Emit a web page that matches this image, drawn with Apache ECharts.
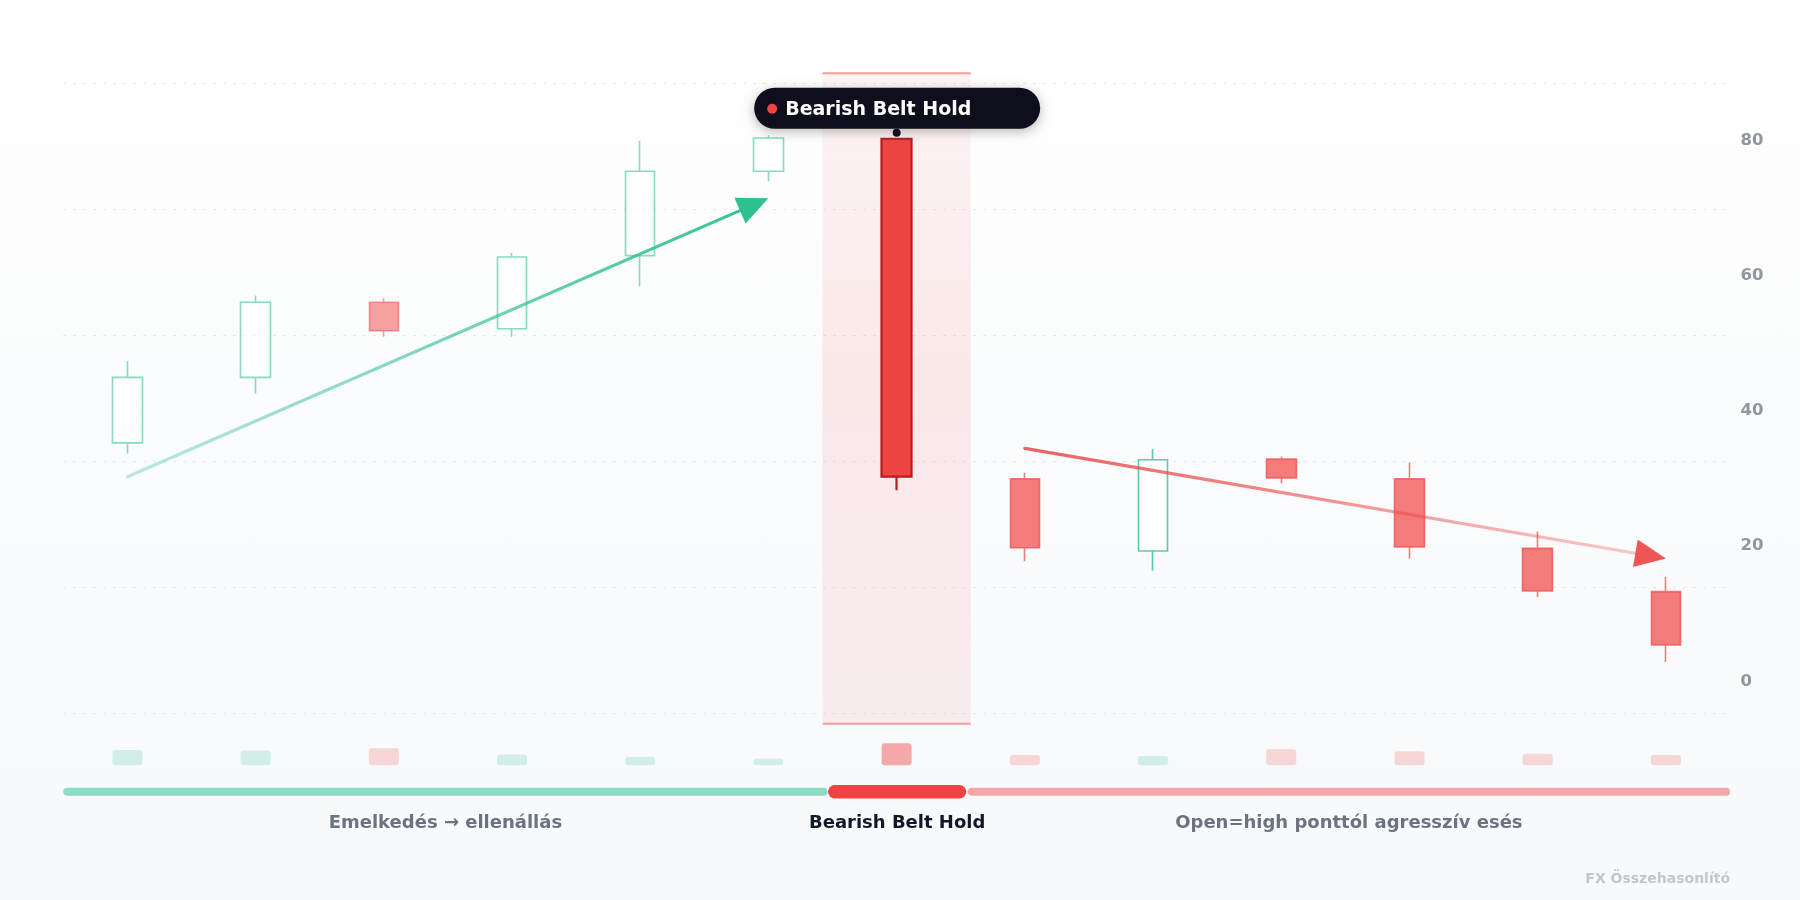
<!DOCTYPE html>
<html>
<head>
<meta charset="utf-8">
<script src="https://cdn.jsdelivr.net/npm/echarts@6/dist/echarts.min.js"></script>
<style>
    html,body{margin:0;padding:0;}
    body{background:linear-gradient(180deg,#ffffff 0%,#fbfcfd 45%,#f7f9fa 100%);}
    #chart{width:1800px;height:900px;}
</style>
</head>
<body>
<div id="chart"></div>
<script>
// candles: [open, close, low, high]
const days = ['1','2','3','4','5','6','7','8','9','10','11','12','13'];
const opens  = [35.0, 44.7, 55.8, 51.9, 62.7, 75.2, 80.0, 29.7, 19.0, 32.6, 29.7, 19.4, 13.0];
const closes = [44.7, 55.8, 51.6, 62.5, 75.2, 80.1, 30.0, 19.5, 32.5, 29.8, 19.6, 13.1, 5.1];
const lows   = [33.4, 42.3, 50.7, 50.7, 58.2, 73.7, 28.0, 17.5, 16.1, 29.0, 17.9, 12.2, 2.6];
const highs  = [47.1, 56.8, 56.4, 63.1, 79.7, 80.5, 80.0, 30.6, 34.1, 33.0, 32.1, 21.9, 15.2];
const volumes = [70, 67, 77, 49, 38, 30, 100, 47, 42, 73, 64, 53, 47];
const yTicks = [0, 20, 40, 60, 80];

const focusIndex = 6;
const patternName = 'Bearish Belt Hold';

// phases under the chart
const phaseStart = [0, 6, 7];
const phaseEnd = [5, 6, 12];
const phaseLabels = ['Emelkedés → ellenállás', 'Bearish Belt Hold', 'Open=high ponttól agresszív esés'];

// trend arrows: from [x, y] to [x, y]
const trendFrom = [[0, 30.0], [7, 34.2]];
const trendTo = [[5, 71.2], [12, 17.9]];

const watermark = 'FX Összehasonlító';

window.onload = () => {
    const GREEN = '#10b981', RED = '#ef4444', DARKRED = '#b91c1c';
    const FONT = 'DejaVu Sans';

    let candleData = [];
    let volumeData = [];
    for (let i = 0; i < days.length; i++) {
        let bull = closes[i] >= opens[i];
        let op = i < focusIndex ? 0.5 : (i === focusIndex ? 1 : 0.7);
        // set both colour slots, so the look doesn't depend on the sign the library picks
        let fill = bull ? '#ffffff' : RED;
        let border = bull ? GREEN : (i === focusIndex ? DARKRED : RED);
        let st = {
            color: fill, color0: fill,
            borderColor: border, borderColor0: border,
            borderWidth: i === focusIndex ? 2.2 : 1.6,
            opacity: op
        };
        candleData.push({value: [opens[i], closes[i], lows[i], highs[i]], itemStyle: st});

        let vc = bull ? 'rgba(16,185,129,0.17)' : 'rgba(239,68,68,0.2)';
        if (i === focusIndex) vc = 'rgba(239,68,68,0.45)';
        volumeData.push({value: volumes[i], itemStyle: {color: vc, borderRadius: 3}});
    }

    let trendData = [];
    for (let i = 0; i < trendFrom.length; i++) {
        trendData.push([trendFrom[i][0], trendFrom[i][1], trendTo[i][0], trendTo[i][1], i]);
    }
    let phaseData = [];
    for (let i = 0; i < phaseStart.length; i++) {
        phaseData.push([phaseStart[i], phaseEnd[i], i]);
    }

    let myChart = echarts.init(document.getElementById('chart'), null, {renderer: 'canvas'});

    let option = {
        animation: false,
        backgroundColor: 'transparent',
        grid: [
            {left: 63.3, right: 70, top: 83.3, height: 630},
            {left: 63.3, right: 70, top: 743.3, height: 22}
        ],
        xAxis: [
            {type: 'category', data: days, gridIndex: 0, boundaryGap: true,
                axisLine: {show: false}, axisTick: {show: false}, axisLabel: {show: false}, splitLine: {show: false}},
            {type: 'category', data: days, gridIndex: 1, boundaryGap: true,
                axisLine: {show: false}, axisTick: {show: false}, axisLabel: {show: false}, splitLine: {show: false}}
        ],
        yAxis: [
            {
                type: 'value', gridIndex: 0, position: 'right', min: -5, max: 88.2, scale: true,
                axisLine: {show: false}, axisTick: {show: false}, splitLine: {show: false},
                axisLabel: {
                    margin: 10.5, color: '#92969e', fontSize: 16.5, fontWeight: 'bold', fontFamily: FONT,
                    verticalAlign: 'top', lineHeight: 3.6,
                    showMinLabel: false, showMaxLabel: false,
                    formatter: (v) => (yTicks.indexOf(v) !== -1 ? String(v) : '')
                }
            },
            {
                // only for the dotted guide lines
                type: 'value', gridIndex: 0, position: 'left', min: 0, max: 5, interval: 1,
                axisLine: {show: false}, axisTick: {show: false}, axisLabel: {show: false},
                splitLine: {show: true, lineStyle: {color: '#e2e5e9', width: 1.2, type: [2.5, 7.5]}}
            },
            {
                type: 'value', gridIndex: 1, min: 0, max: 100,
                axisLine: {show: false}, axisTick: {show: false}, axisLabel: {show: false}, splitLine: {show: false}
            }
        ],
        graphic: [{
            type: 'text', right: 70, top: 872,
            style: {text: watermark, fill: '#c3c7cd', font: 'bold 14px "DejaVu Sans"'}
        }],
        series: [
            {
                // highlighted band behind the focus candle
                type: 'custom', xAxisIndex: 0, yAxisIndex: 0, z: 1, silent: true,
                data: [[focusIndex]],
                renderItem: (params, api) => {
                    let c = api.coord([api.value(0), 0]);
                    let bw = api.size([1, 0])[0];
                    let cs = params.coordSys;
                    let x0 = c[0] - bw * 0.578, w = bw * 1.156;
                    let top = cs.y - 10, bottom = cs.y + cs.height + 10.5;
                    return {
                        type: 'group', children: [
                            {type: 'rect', shape: {x: x0, y: top, width: w, height: bottom - top, r: [0, 0, 4, 4]},
                                style: {fill: new echarts.graphic.LinearGradient(0, 0, 0, 1, [
                                    {offset: 0, color: 'rgba(239,68,68,0.05)'},
                                    {offset: 0.45, color: 'rgba(239,68,68,0.11)'},
                                    {offset: 1, color: 'rgba(239,68,68,0.08)'}
                                ])}},
                            {type: 'line', shape: {x1: x0, y1: top, x2: x0 + w, y2: top},
                                style: {stroke: 'rgba(239,68,68,0.5)', lineWidth: 2}},
                            {type: 'line', shape: {x1: x0, y1: bottom, x2: x0 + w, y2: bottom},
                                style: {stroke: 'rgba(239,68,68,0.5)', lineWidth: 2}}
                        ]
                    };
                }
            },
            {
                type: 'candlestick', xAxisIndex: 0, yAxisIndex: 0, z: 2,
                barWidth: 30,
                data: candleData
            },
            {
                // trend arrows
                type: 'custom', xAxisIndex: 0, yAxisIndex: 0, z: 3, silent: true,
                data: trendData,
                renderItem: (params, api) => {
                    let p0 = api.coord([api.value(0), api.value(1)]);
                    let p1 = api.coord([api.value(2), api.value(3)]);
                    let dx = p1[0] - p0[0], dy = p1[1] - p0[1];
                    let len = Math.sqrt(dx * dx + dy * dy);
                    let ux = dx / len, uy = dy / len;
                    let head = 31, half = 14;
                    let bx = p1[0] - ux * head, by = p1[1] - uy * head;
                    let up = api.value(4) === 0;
                    let stops = up ? [
                        {offset: 0, color: 'rgba(46,189,143,0.3)'},
                        {offset: 1, color: 'rgba(38,190,140,0.95)'}
                    ] : [
                        {offset: 0, color: 'rgba(232,80,80,0.9)'},
                        {offset: 1, color: 'rgba(239,68,68,0.25)'}
                    ];
                    return {
                        type: 'group', children: [
                            {type: 'line', shape: {x1: p0[0], y1: p0[1], x2: bx + ux * 3, y2: by + uy * 3},
                                style: {stroke: new echarts.graphic.LinearGradient(p0[0], p0[1], p1[0], p1[1], stops, true),
                                    lineWidth: 3.2, lineCap: 'round'}},
                            {type: 'polygon', shape: {points: [
                                    [p1[0], p1[1]],
                                    [bx - uy * half, by + ux * half],
                                    [bx + uy * half, by - ux * half]
                                ]},
                                style: {fill: up ? '#2ec18f' : '#ef5555'}}
                        ]
                    };
                }
            },
            {
                // pattern label pill over the focus candle
                type: 'custom', xAxisIndex: 0, yAxisIndex: 0, z: 5, silent: true,
                data: [[focusIndex, highs[focusIndex]]],
                renderItem: (params, api) => {
                    let p = api.coord([api.value(0), api.value(1)]);
                    let w = 286, h = 41;
                    let x = p[0] - 142.5, y = p[1] - 51;
                    return {
                        type: 'group', children: [
                            {type: 'rect', shape: {x: x, y: y, width: w, height: h, r: h / 2},
                                style: {fill: '#0e0e1c', shadowBlur: 12, shadowColor: 'rgba(0,0,0,0.28)', shadowOffsetY: 3}},
                            {type: 'circle', shape: {cx: x + 18, cy: y + 21, r: 5}, style: {fill: RED}},
                            {type: 'text', style: {x: x + 31, y: y + 22, text: patternName, fill: '#ffffff',
                                    font: 'bold 19px "DejaVu Sans"', verticalAlign: 'middle', textAlign: 'left'}},
                            {type: 'circle', shape: {cx: p[0], cy: p[1] - 6, r: 4}, style: {fill: '#0e0e1c'}}
                        ]
                    };
                }
            },
            {
                type: 'bar', xAxisIndex: 1, yAxisIndex: 2, barWidth: 30,
                data: volumeData
            },
            {
                // phase strip and labels
                type: 'custom', xAxisIndex: 1, yAxisIndex: 2, z: 4, silent: true, clip: false,
                data: phaseData,
                renderItem: (params, api) => {
                    let s = api.coord([api.value(0), 0]);
                    let e = api.coord([api.value(1), 0]);
                    let bw = api.size([1, 0])[0];
                    let idx = api.value(2);
                    let isFocus = phaseStart[idx] === focusIndex;
                    let x0 = s[0] - bw / 2, x1 = e[0] + bw / 2;
                    if (isFocus) { x0 -= 4.5; x1 += 5.5; }
                    if (phaseStart[idx + 1] === focusIndex) x1 -= 5;
                    if (phaseEnd[idx - 1] === focusIndex) x0 += 7;
                    let cy = s[1] + 26.4;
                    let h = isFocus ? 13.4 : 8;
                    let fill = isFocus ? RED : (phaseStart[idx] < focusIndex ? 'rgba(16,185,129,0.45)' : 'rgba(239,68,68,0.45)');
                    return {
                        type: 'group', children: [
                            {type: 'rect', shape: {x: x0, y: cy - h / 2, width: x1 - x0, height: h, r: h / 2}, style: {fill: fill}},
                            {type: 'text', style: {x: (x0 + x1) / 2, y: s[1] + 58.2, text: phaseLabels[idx],
                                    fill: isFocus ? '#111827' : '#6b7280', font: 'bold 18px "DejaVu Sans"',
                                    textAlign: 'center', verticalAlign: 'middle'}}
                        ]
                    };
                }
            }
        ]
    };
    myChart.setOption(option);
    window.addEventListener('resize', function () {
        myChart.resize();
    });
};
</script>
</body>
</html>
